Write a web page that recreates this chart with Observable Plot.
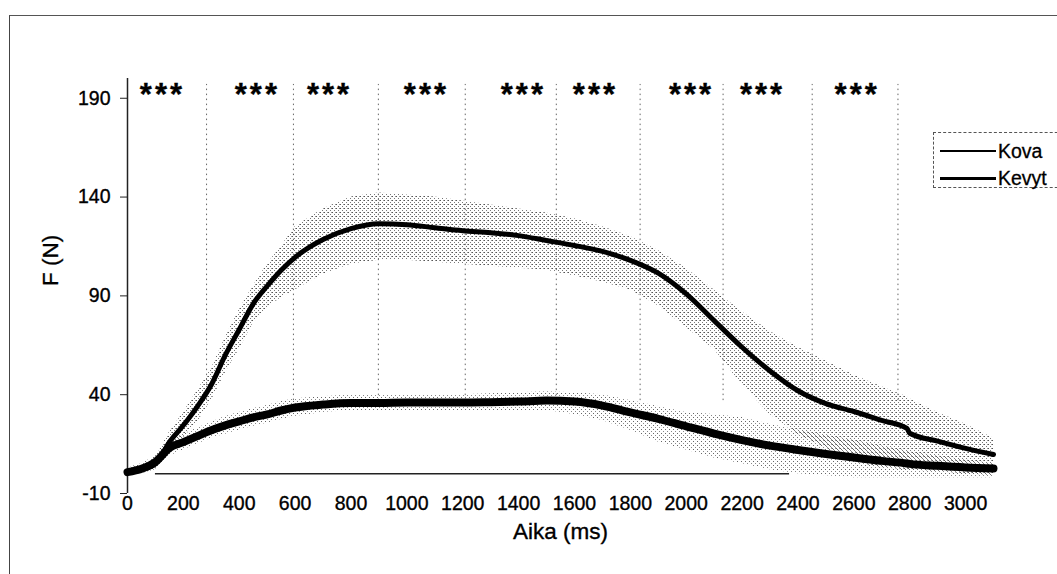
<!DOCTYPE html>
<html>
<head>
<meta charset="utf-8">
<script src="https://cdn.jsdelivr.net/npm/d3@7"></script>
<script src="https://cdn.jsdelivr.net/npm/@observablehq/plot@0.6"></script>
<style>
  html, body { margin: 0; padding: 0; background: #fff; }
  #wrap { position: relative; width: 1057px; height: 574px; overflow: hidden; font-family: "Liberation Sans", Arial, sans-serif; }
  #frame { position: absolute; left: 9px; top: 15px; width: 1200px; height: 700px; border-top: 1.5px solid #555; border-left: 1.5px solid #444; box-sizing: border-box; }
  #legend { position: absolute; left: 933px; top: 132px; width: 140px; height: 56px; border: 1px dashed #555; box-sizing: border-box; background: #fff; }
  .lrow { position: absolute; left: 6px; height: 24px; display: flex; align-items: center; font-size: 19.5px; color: #000; -webkit-text-stroke: 0.3px #000; }
  .lline { width: 56px; background: #000; margin-right: 2px; }
  .stars { letter-spacing: 3px; }
  #chart svg text { stroke: #000; stroke-width: 0.35px; }
</style>
</head>
<body>
<div id="wrap">
  <div id="frame"></div>
  <div id="chart"></div>
  <div id="legend">
    <div class="lrow" style="top:6px"><div class="lline" style="height:1.5px"></div><span>Kova</span></div>
    <div class="lrow" style="top:33px"><div class="lline" style="height:3px"></div><span>Kevyt</span></div>
  </div>
</div>
<script>
// time grid (ms)
const time = [0, 50, 100, 150, 200, 250, 300, 350, 400, 450, 500, 550, 600, 700, 800, 900, 1000, 1100, 1200, 1300, 1400, 1500, 1600, 1700, 1800, 1900, 2000, 2100, 2200, 2300, 2400, 2500, 2600, 2700, 2790, 2800, 2900, 3000, 3100];
// Kova (hard) mean force and SD band
const kovaMean = [1.0, 2.0, 5.0, 16, 24.5, 34, 45, 60, 73, 86, 95, 103, 109.5, 118.5, 124, 126.5, 126, 124.5, 123, 122, 120.5, 118, 115.5, 112.5, 108, 101.5, 91, 77.5, 64, 52, 42, 35.5, 31.5, 27, 23, 20.5, 16.5, 12.8, 9.7];
const kovaLow  = [0, 0, 2, 11, 18, 26, 37, 51, 63, 76, 84, 89, 93, 101, 106, 108, 108, 107, 106, 105, 104, 103, 100, 97, 93, 85, 74, 63, 45, 30, 20, 13, 6, 3, 2, 2, 1, 0, -1];
const kovaHigh = [3, 4, 8, 21, 31, 42, 53, 69, 83, 95, 106, 115, 125, 134, 140, 142, 141, 140, 138, 136, 134, 132, 129, 125, 120, 113, 104, 93, 82, 72, 64, 57, 50, 44, 39, 38, 31, 25, 18];
// Kevyt (light) mean force and SD band
const kevytMean = [0.8, 2.5, 6, 13, 16, 19, 22, 24.5, 26.5, 28.5, 30, 32, 33.5, 35, 35.8, 35.8, 36, 36, 36, 36.2, 36.5, 37, 36.5, 34.5, 31, 27.8, 24, 20.3, 17, 14.2, 12, 10, 8.2, 6.5, 5.2, 5, 4, 3.2, 2.7];
const kevytLow  = [-1, 0, 2, 9, 12, 15, 18, 20, 22, 24, 25.5, 27.5, 29, 31, 32, 32, 32, 32, 32, 32, 32, 32, 30, 27, 22, 16, 12, 8, 5, 2, 0, -1, -2, -2, -2, -2, -2, -2, -2];
const kevytHigh = [3, 5, 9, 17, 20, 23, 26, 29, 31, 33, 34.5, 36.5, 38, 39, 40, 40, 40, 40, 40, 40.5, 41, 41.5, 41, 40, 37, 34, 31, 30, 28.5, 25, 22, 19.5, 17, 14, 11.5, 11, 9, 7, 5];
// period boundaries (dotted lines) and significance markers
const periodBounds = [283, 594, 898, 1209, 1535, 1835, 2132, 2451, 2758];
const starTimes = [125, 465, 723, 1070, 1417, 1675, 2019, 2273, 2612];
const starLabel = "***";
// axes
const xTicks = [0, 200, 400, 600, 800, 1000, 1200, 1400, 1600, 1800, 2000, 2200, 2400, 2600, 2800, 3000];
const yTicks = [-10, 40, 90, 140, 190];
const zeroLine = {from: 100, to: 2370};

const kova = time.map((t, i) => ({t, m: kovaMean[i], lo: kovaLow[i], hi: kovaHigh[i]}));
const kevyt = time.map((t, i) => ({t, m: kevytMean[i], lo: kevytLow[i], hi: kevytHigh[i]}));

const chart = Plot.plot({
  width: 1057,
  height: 574,
  marginLeft: 127,
  marginRight: 64,
  marginTop: 78,
  marginBottom: 81,
  style: {fontFamily: "'Liberation Sans', Arial, sans-serif", color: "#000", background: "transparent"},
  x: {domain: [0, 3100]},
  y: {domain: [-10, 200]},
  marks: [
    Plot.areaY(kova, {x: "t", y1: "lo", y2: "hi", fill: "url(#stipA)"}),
    Plot.areaY(kevyt, {x: "t", y1: "lo", y2: "hi", fill: "url(#stipB)"}),
    Plot.ruleX(periodBounds, {y1: 37, y2: 197, stroke: "#666", strokeWidth: 1, strokeDasharray: "1.5,3.5"}),
    Plot.ruleY([0], {x1: zeroLine.from, x2: zeroLine.to, stroke: "#222", strokeWidth: 1.5}),
    Plot.ruleX([0], {y1: -10, y2: 200, stroke: "#222", strokeWidth: 1.5}),
    Plot.line(kevyt, {x: "t", y: "m", stroke: "#000", strokeWidth: 8, curve: "monotone-x"}),
    Plot.line(kova, {x: "t", y: "m", stroke: "#000", strokeWidth: 5, curve: "monotone-x"}),
    Plot.text(starTimes, {x: d => d, y: 196, text: () => starLabel, fontSize: 31, fontWeight: "bold", dy: 9, className: "stars", fill: "#000"}),
    Plot.axisY({ticks: yTicks, tickSize: 7, tickPadding: 10, fontSize: 19.5, label: null, stroke: "#222", tickFormat: d => String(d)}),
    Plot.axisX({ticks: xTicks, tickSize: 0, tickPadding: 3, fontSize: 19.5, label: null, tickFormat: d => String(d)}),
    Plot.text(["F (N)"], {frameAnchor: "left", dx: -77, rotate: -90, fontSize: 22.5, text: d => d}),
    Plot.text(["Aika (ms)"], {frameAnchor: "bottom", dy: 45, fontSize: 22.5, text: d => d})
  ]
});

chart.insertAdjacentHTML("afterbegin",
  '<defs>' +
  '<pattern id="stipA" width="4" height="4" patternUnits="userSpaceOnUse">' +
  '<rect x="0" y="0" width="1" height="1" fill="#555"/><rect x="2" y="2" width="1" height="1" fill="#777"/><rect x="3" y="0" width="1" height="1" fill="#999"/>' +
  '</pattern>' +
  '<pattern id="stipB" width="4" height="4" patternUnits="userSpaceOnUse">' +
  '<rect x="1" y="1" width="1" height="1" fill="#666"/><rect x="3" y="3" width="1" height="1" fill="#888"/>' +
  '</pattern>' +
  '</defs>');

document.getElementById("chart").appendChild(chart);
</script>
</body>
</html>
